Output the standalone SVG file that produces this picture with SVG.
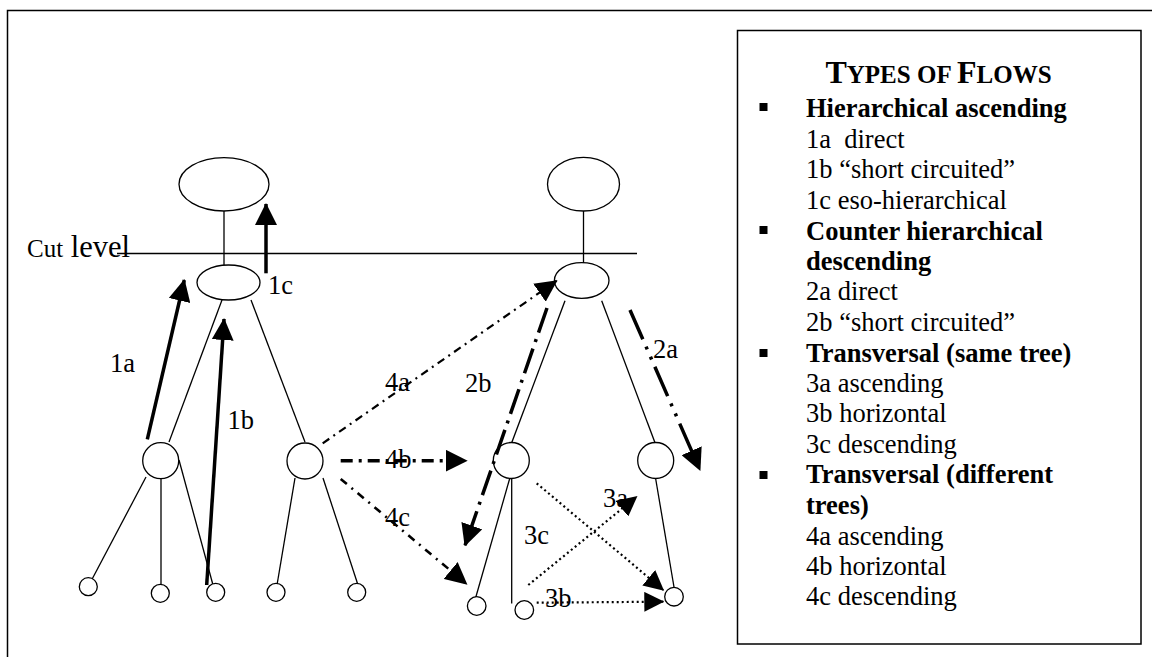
<svg xmlns="http://www.w3.org/2000/svg" width="1152" height="657" viewBox="0 0 1152 657">
<style>
  text { font-family: "Liberation Serif", "Times New Roman", serif; fill: #000; }
  .lg { font-size: 26.5px; white-space: pre; }
  .b { font-weight: bold; }
  .lbl { font-size: 26.5px; }
  .node { fill: #fff; stroke: #000; stroke-width: 1.3; }
  .edge { stroke: #000; stroke-width: 1.3; fill: none; }
  .frame { fill: none; stroke: #000; stroke-width: 1.5; }
  .solid { stroke: #000; stroke-width: 3.5; fill: none; marker-end: url(#ah); }
  .da { stroke: #000; fill: none; marker-end: url(#ah); }
  .dot { stroke: #000; stroke-width: 2.2; fill: none; stroke-dasharray: 2 3; marker-end: url(#ahs); }
</style>
<defs>
  <marker id="ah" viewBox="0 0 22 22" refX="21" refY="11" markerWidth="22" markerHeight="22" markerUnits="userSpaceOnUse" orient="auto">
    <path d="M0,0 L22,11 L0,22 z" fill="#000"/>
  </marker>
  <marker id="ahs" viewBox="0 0 20 20" refX="19" refY="10" markerWidth="20" markerHeight="20" markerUnits="userSpaceOnUse" orient="auto">
    <path d="M0,0 L20,10 L0,20 z" fill="#000"/>
  </marker>
</defs>
<rect width="1152" height="657" fill="#fff"/>
<!-- outer frame -->
<path class="frame" d="M1160,10.5 L7.5,10.5 L7.5,660"/>

<!-- cut level -->
<g id="cut-level">
  <line x1="117" y1="253.5" x2="637" y2="253.5" stroke="#000" stroke-width="1.3"/>
  <text x="27" y="257"><tspan font-size="25">Cut</tspan><tspan font-size="30.5"> level</tspan></text>
</g>

<!-- tree edges -->
<g id="tree-edges">
  <line class="edge" x1="224" y1="211" x2="224" y2="265"/>
  <line class="edge" x1="222" y1="300" x2="169" y2="442"/>
  <line class="edge" x1="251" y1="300" x2="305" y2="442"/>
  <line class="edge" x1="146" y1="477" x2="89" y2="585"/>
  <line class="edge" x1="161" y1="479" x2="161" y2="585"/>
  <line class="edge" x1="179" y1="460" x2="213" y2="585"/>
  <line class="edge" x1="295" y1="478" x2="277" y2="585"/>
  <line class="edge" x1="323" y1="478" x2="358" y2="585"/>
  <line class="edge" x1="583.5" y1="211" x2="583.5" y2="263"/>
  <line class="edge" x1="565" y1="300.7" x2="511.7" y2="442.7"/>
  <line class="edge" x1="601.7" y1="300.7" x2="655" y2="442.7"/>
  <line class="edge" x1="510" y1="477.5" x2="475" y2="600"/>
  <line class="edge" x1="511.7" y1="478.5" x2="511.7" y2="603.5"/>
  <line class="edge" x1="655.7" y1="479" x2="674" y2="587"/>
</g>

<!-- left tree nodes -->
<g id="L-root"><ellipse class="node" cx="224" cy="184.3" rx="45" ry="26.7"/></g>
<g id="L-mid"><ellipse class="node" cx="228.5" cy="282.5" rx="31.5" ry="17.5"/></g>
<g id="L-n1"><circle class="node" cx="160.7" cy="460.7" r="18"/></g>
<g id="L-n2"><circle class="node" cx="305" cy="461" r="18"/></g>
<g id="L-leaf1"><circle class="node" cx="88.3" cy="586.7" r="9"/></g>
<g id="L-leaf2"><circle class="node" cx="160.3" cy="593.3" r="9"/></g>
<g id="L-leaf3"><circle class="node" cx="215.7" cy="592.3" r="9"/></g>
<g id="L-leaf4"><circle class="node" cx="276" cy="592.3" r="9"/></g>
<g id="L-leaf5"><circle class="node" cx="356.7" cy="592.3" r="9"/></g>

<!-- right tree nodes -->
<g id="R-root"><ellipse class="node" cx="583.5" cy="184.2" rx="36" ry="26.8"/></g>
<g id="R-mid"><ellipse class="node" cx="581.7" cy="280.5" rx="27.3" ry="17.8"/></g>
<g id="R-n1"><circle class="node" cx="511.3" cy="460.5" r="18"/></g>
<g id="R-n2"><circle class="node" cx="655.7" cy="460.5" r="18"/></g>
<g id="R-leaf1"><circle class="node" cx="476.7" cy="606" r="9.3"/></g>
<g id="R-leaf2"><circle class="node" cx="524.3" cy="610" r="9.3"/></g>
<g id="R-leaf3"><circle class="node" cx="674" cy="596.7" r="9.3"/></g>

<!-- flows -->
<g id="connectors">
  <line class="solid" x1="147.3" y1="439.3" x2="184.3" y2="280"/>
  <line class="solid" x1="206.7" y1="585" x2="224" y2="319"/>
  <line class="solid" x1="266" y1="273.3" x2="266" y2="204"/>
  <line class="da" stroke-width="2.2" stroke-dasharray="8 5 2 5" x1="322.7" y1="443.3" x2="556.7" y2="280.7"/>
  <line class="da" stroke-width="3.5" stroke-dasharray="12 6 3 6" x1="340.7" y1="460.7" x2="466.7" y2="460.7"/>
  <line class="da" stroke-width="2.6" stroke-dasharray="8 6 2 6" x1="340.7" y1="479" x2="466.7" y2="584"/>
  <line class="da" stroke-width="3.5" stroke-dasharray="26 7 3 7" x1="547" y1="308" x2="465" y2="545.5"/>
  <line class="da" stroke-width="3.5" stroke-dasharray="32 8 3 8 3 8" x1="630" y1="310" x2="700" y2="470"/>
  <line class="dot" x1="528.3" y1="585" x2="636.7" y2="496.7"/>
  <line class="dot" x1="536.7" y1="483.3" x2="663.3" y2="590"/>
  <line class="dot" x1="536.7" y1="602.7" x2="663.3" y2="601.7"/>
</g>

<!-- flow labels -->
<g id="labels">
  <text class="lbl" x="110" y="371.5">1a</text>
  <text class="lbl" x="227.5" y="429">1b</text>
  <text class="lbl" x="268" y="294">1c</text>
  <text class="lbl" x="385" y="391">4a</text>
  <text class="lbl" x="385" y="468">4b</text>
  <text class="lbl" x="385" y="526">4c</text>
  <text class="lbl" x="465" y="391.5">2b</text>
  <text class="lbl" x="653" y="358">2a</text>
  <text class="lbl" x="603" y="507">3a</text>
  <text class="lbl" x="524" y="544">3c</text>
  <text class="lbl" x="545" y="607">3b</text>
</g>

<!-- legend -->
<g id="legend">
  <rect class="frame" x="737.5" y="30.5" width="403.5" height="613.5"/>
  <text x="938.5" y="83" text-anchor="middle" font-weight="bold"><tspan font-size="32">T</tspan><tspan font-size="25">YPES OF </tspan><tspan font-size="32">F</tspan><tspan font-size="25">LOWS</tspan></text>
  <rect x="759.5" y="103" width="8" height="8"/>
  <rect x="759.5" y="226" width="8" height="8"/>
  <rect x="759.5" y="349" width="8" height="8"/>
  <rect x="759.5" y="471" width="8" height="8"/>
  <text class="lg b" x="806" y="117">Hierarchical ascending</text>
  <text class="lg" x="806" y="147.5">1a  direct</text>
  <text class="lg" x="806" y="178">1b “short circuited”</text>
  <text class="lg" x="806" y="208.5">1c eso-hierarchical</text>
  <text class="lg b" x="806" y="239.5">Counter hierarchical</text>
  <text class="lg b" x="806" y="269.5">descending</text>
  <text class="lg" x="806" y="300">2a direct</text>
  <text class="lg" x="806" y="330.5">2b “short circuited”</text>
  <text class="lg b" x="806" y="361.5">Transversal (same tree)</text>
  <text class="lg" x="806" y="392">3a ascending</text>
  <text class="lg" x="806" y="422">3b horizontal</text>
  <text class="lg" x="806" y="452.5">3c descending</text>
  <text class="lg b" x="806" y="483">Transversal (different</text>
  <text class="lg b" x="806" y="513.5">trees)</text>
  <text class="lg" x="806" y="544.5">4a ascending</text>
  <text class="lg" x="806" y="574.5">4b horizontal</text>
  <text class="lg" x="806" y="605">4c descending</text>
</g>
</svg>
